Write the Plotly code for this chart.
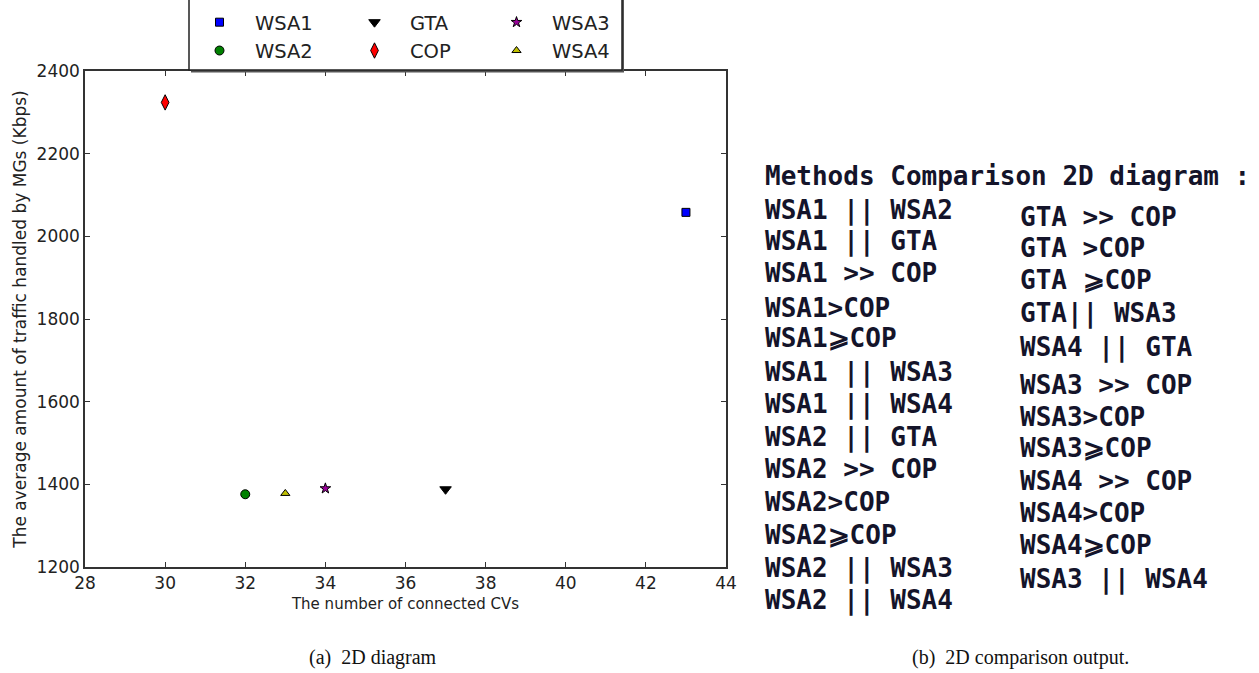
import plotly.graph_objects as go

# ---- data ----
methods = ["WSA1", "WSA2", "GTA", "COP", "WSA3", "WSA4"]
connected_cvs = [43, 32, 37, 30, 34, 33]
traffic_kbps = [2058, 1376, 1388, 2324, 1390, 1378]
x_ticks = [28, 30, 32, 34, 36, 38, 40, 42, 44]
y_ticks = [1200, 1400, 1600, 1800, 2000, 2200, 2400]

left_lines = ["WSA1 || WSA2", "WSA1 || GTA", "WSA1 >> COP", "WSA1>COP", "WSA1⩾COP",
              "WSA1 || WSA3", "WSA1 || WSA4", "WSA2 || GTA", "WSA2 >> COP", "WSA2>COP",
              "WSA2⩾COP", "WSA2 || WSA3", "WSA2 || WSA4"]
right_lines = ["GTA >> COP", "GTA >COP", "GTA ⩾COP", "GTA|| WSA3", "WSA4 || GTA",
               "WSA3 >> COP", "WSA3>COP", "WSA3⩾COP", "WSA4 >> COP", "WSA4>COP",
               "WSA4⩾COP", "WSA3 || WSA4"]
header = "Methods Comparison 2D diagram :"
captions = ["(a)  2D diagram", "(b)  2D comparison output."]

# ---- styles ----
styles = {
    "WSA1": dict(symbol="square", color="#0000ff", size=8, legend="legend"),
    "WSA2": dict(symbol="circle", color="#008000", size=9, legend="legend"),
    "GTA": dict(symbol="triangle-down", color="#000000", size=10, legend="legend2"),
    "COP": dict(symbol="diamond-tall", color="#ff0000", size=11, legend="legend2"),
    "WSA3": dict(symbol="star", color="#9a009a", size=8, legend="legend3"),
    "WSA4": dict(symbol="triangle-up", color="#bfbf00", size=8, legend="legend3"),
}

W, H = 1259, 673
L, R, T, B = 85, 726, 71, 567

def px(x):
    return (x - L) / (R - L)

def py(y):
    return (B - y) / (B - T)

fig = go.Figure()
for m, xv, yv in zip(methods, connected_cvs, traffic_kbps):
    s = styles[m]
    fig.add_trace(go.Scatter(
        x=[xv], y=[yv], mode="markers", name=m, legend=s["legend"],
        marker=dict(symbol=s["symbol"], color=s["color"], size=s["size"],
                    line=dict(color="black", width=1)),
    ))

axis_common = dict(
    showgrid=False, zeroline=False, showline=True, linecolor="#333333", linewidth=1.5,
    mirror="ticks", ticks="inside", ticklen=5, tickwidth=1, tickcolor="#333333",
    tickfont=dict(family="DejaVu Sans", size=17, color="#222222"),
)
fig.update_xaxes(range=[28, 44], tickvals=x_ticks,
                 title=dict(text="The number of connected CVs",
                            font=dict(family="DejaVu Sans", size=15, color="#222222"),
                            standoff=6),
                 **axis_common)
fig.update_yaxes(range=[1200, 2400], tickvals=y_ticks,
                 title=dict(text="The average amount of traffic handled by MGs (Kbps)",
                            font=dict(family="DejaVu Sans", size=17, color="#222222"),
                            standoff=6),
                 **axis_common)

annotations = []
mono = dict(family="DejaVu Sans Mono", size=26, color="#14142a", weight="bold")
annotations.append(dict(text=header, x=px(763), y=py(176), xref="paper", yref="paper",
                        xanchor="left", yanchor="middle", showarrow=False, font=mono))
left_y = [210, 241, 273, 308, 338, 372, 404, 437, 469, 502, 535, 568, 600]
right_y = [217, 248, 280, 313, 347, 385, 417, 448, 481, 513, 545, 579]
for t, yy in zip(left_lines, left_y):
    annotations.append(dict(text=t, x=px(763), y=py(yy), xref="paper", yref="paper",
                            xanchor="left", yanchor="middle", showarrow=False, font=mono))
for t, yy in zip(right_lines, right_y):
    annotations.append(dict(text=t, x=px(1018), y=py(yy), xref="paper", yref="paper",
                            xanchor="left", yanchor="middle", showarrow=False, font=mono))
serif = dict(family="Liberation Serif", size=20, color="#111111")
annotations.append(dict(text=captions[0], x=px(373), y=py(657), xref="paper", yref="paper",
                        xanchor="center", yanchor="middle", showarrow=False, font=serif))
annotations.append(dict(text=captions[1], x=px(1020), y=py(657), xref="paper", yref="paper",
                        xanchor="center", yanchor="middle", showarrow=False, font=serif))

# legend box with shadow
shapes = [
    dict(type="rect", xref="paper", yref="paper",
         x0=px(191), x1=px(624), y0=py(72.5), y1=py(-5),
         fillcolor="#555555", line=dict(width=0), layer="above"),
    dict(type="rect", xref="paper", yref="paper",
         x0=px(189), x1=px(622), y0=py(70), y1=py(-5),
         fillcolor="white", line=dict(color="#222222", width=1.5), layer="above"),
]

legend_common = dict(orientation="v", yanchor="bottom", xanchor="left", itemwidth=61,
                     bgcolor="rgba(0,0,0,0)", borderwidth=0,
                     font=dict(family="DejaVu Sans", size=19.5, color="#222222"))
fig.update_layout(
    width=W, height=H,
    margin=dict(l=L, r=W - R, t=T, b=H - B, autoexpand=False),
    paper_bgcolor="white", plot_bgcolor="white",
    annotations=annotations, shapes=shapes,
    legend=dict(x=px(184), y=py(70), **legend_common),
    legend2=dict(x=px(339), y=py(70), **legend_common),
    legend3=dict(x=px(481), y=py(70), **legend_common),
    showlegend=True,
)

fig.write_html("out.html")
